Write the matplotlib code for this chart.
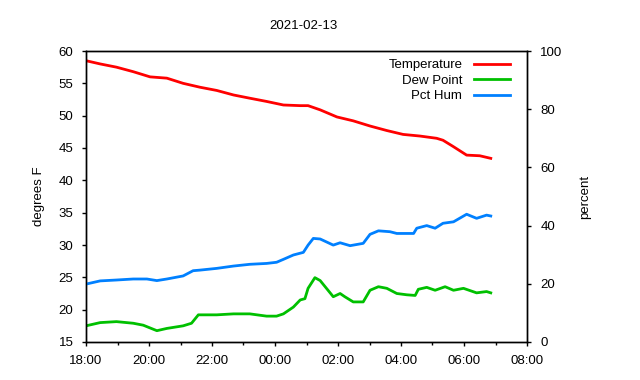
import matplotlib
matplotlib.use("Agg")
import matplotlib.pyplot as plt
import matplotlib.dates as mdates
from datetime import datetime, timedelta

plt.rcParams['font.family'] = ['Liberation Sans', 'DejaVu Sans']

title = "2021-02-13"
base_day = datetime(2021, 2, 12)

temp_times = ["18:00", "18:27", "18:58", "19:30", "20:02", "20:34", "21:05", "21:37",
              "22:09", "22:41", "23:12", "23:44", "00:16", "00:48", "01:03", "01:26",
              "01:58", "02:29", "03:01", "03:33", "04:04", "04:36", "05:08", "05:20",
              "05:40", "06:05", "06:30", "06:51"]
temp_vals = [58.5, 58.0, 57.5, 56.8, 56.0, 55.8, 55.0, 54.4,
             53.9, 53.2, 52.7, 52.2, 51.65, 51.55, 51.55, 50.9,
             49.8, 49.2, 48.4, 47.7, 47.1, 46.85, 46.5, 46.2,
             45.2, 43.9, 43.8, 43.4]

dew_times = ["18:00", "18:27", "18:58", "19:30", "19:49", "20:15", "20:34", "21:05",
             "21:21", "21:34", "22:09", "22:41", "23:12", "23:44", "00:03", "00:16",
             "00:35", "00:48", "00:57", "01:03", "01:16", "01:26", "01:38", "01:51",
             "02:04", "02:13", "02:29", "02:48", "03:01", "03:17", "03:33", "03:52",
             "04:11", "04:27", "04:33", "04:49", "05:05", "05:24", "05:40", "05:59",
             "06:24", "06:43", "06:51"]
dew_vals = [17.5, 18.0, 18.15, 17.9, 17.6, 16.75, 17.1, 17.5,
            17.9, 19.2, 19.2, 19.35, 19.35, 19.0, 19.0, 19.35,
            20.4, 21.5, 21.7, 23.3, 24.95, 24.5, 23.3, 22.0,
            22.5, 22.0, 21.2, 21.2, 23.0, 23.55, 23.3, 22.5,
            22.3, 22.2, 23.15, 23.45, 23.0, 23.55, 23.0, 23.3,
            22.6, 22.8, 22.6]

hum_times = ["18:00", "18:27", "18:58", "19:30", "19:56", "20:15", "20:34", "21:05",
             "21:24", "21:37", "22:09", "22:41", "23:12", "23:44", "00:03", "00:16",
             "00:35", "00:54", "01:03", "01:13", "01:26", "01:51", "02:04", "02:23",
             "02:48", "03:01", "03:17", "03:39", "03:52", "04:24", "04:30", "04:49",
             "05:05", "05:20", "05:40", "06:05", "06:24", "06:43", "06:51"]
hum_vals = [19.9, 21.0, 21.3, 21.65, 21.65, 21.1, 21.65, 22.7,
            24.5, 24.7, 25.3, 26.1, 26.7, 27.0, 27.4, 28.4,
            29.9, 30.8, 33.3, 35.6, 35.4, 33.3, 34.1, 33.1,
            33.9, 37.0, 38.2, 37.9, 37.3, 37.3, 39.1, 40.0,
            39.1, 40.8, 41.3, 43.9, 42.5, 43.6, 43.3]

def to_dt(times):
    out = []
    for t in times:
        h, m = map(int, t.split(":"))
        d = base_day + timedelta(hours=h, minutes=m)
        if h < 12:
            d += timedelta(days=1)
        out.append(d)
    return out

fig = plt.figure(figsize=(6.4, 3.8), dpi=100)
ax = fig.add_axes([86/640, 38/380, 441/640, 291/380])
ax2 = ax.twinx()

lw = 2.0
ax.plot(to_dt(temp_times), temp_vals, color='#ff0000', lw=lw, label='Temperature')
ax.plot(to_dt(dew_times), dew_vals, color='#00c000', lw=lw, label='Dew Point')
ax2.plot(to_dt(hum_times), hum_vals, color='#0080ff', lw=lw, label='Pct Hum')

ax.set_ylim(15, 60)
ax.set_yticks(range(15, 61, 5))
ax2.set_ylim(0, 100)
ax2.set_yticks(range(0, 101, 20))
ax.set_xlim(base_day + timedelta(hours=18), base_day + timedelta(hours=32))
ax.xaxis.set_major_locator(mdates.HourLocator(byhour=range(0, 24, 2)))
ax.xaxis.set_minor_locator(mdates.HourLocator(byhour=range(1, 24, 2)))
ax.xaxis.set_major_formatter(mdates.DateFormatter("%H:%M"))

for a in (ax, ax2):
    a.tick_params(axis='both', which='major', labelsize=9.5, length=3, width=1, direction='out', colors='black')
    a.tick_params(axis='x', which='minor', length=2, width=1, direction='out')
    for s in a.spines.values():
        s.set_linewidth(1)
ax.tick_params(axis='x', pad=6)
ax.tick_params(axis='y', pad=6)
ax2.tick_params(axis='y', pad=6.5)

ax.set_ylabel("degrees F", fontsize=9.5, labelpad=9.5)
ax2.set_ylabel("percent", fontsize=9.5, labelpad=12)
fig.text(303/640, 1 - 26/380, title, ha='center', va='center', fontsize=9.5)

h1, l1 = ax.get_legend_handles_labels()
h2, l2 = ax2.get_legend_handles_labels()
leg = ax2.legend(h1 + h2, l1 + l2, loc='upper right', bbox_to_anchor=(0.973, 0.99),
                 frameon=False, fontsize=9.5,
                 markerfirst=False, handlelength=2.7, handletextpad=0.9,
                 labelspacing=0.25, borderaxespad=0.0, borderpad=0.4)
for t in leg.get_texts():
    t.set_ha('right')
leg._legend_box.align = 'right'

fig.savefig("out.png", dpi=100)
